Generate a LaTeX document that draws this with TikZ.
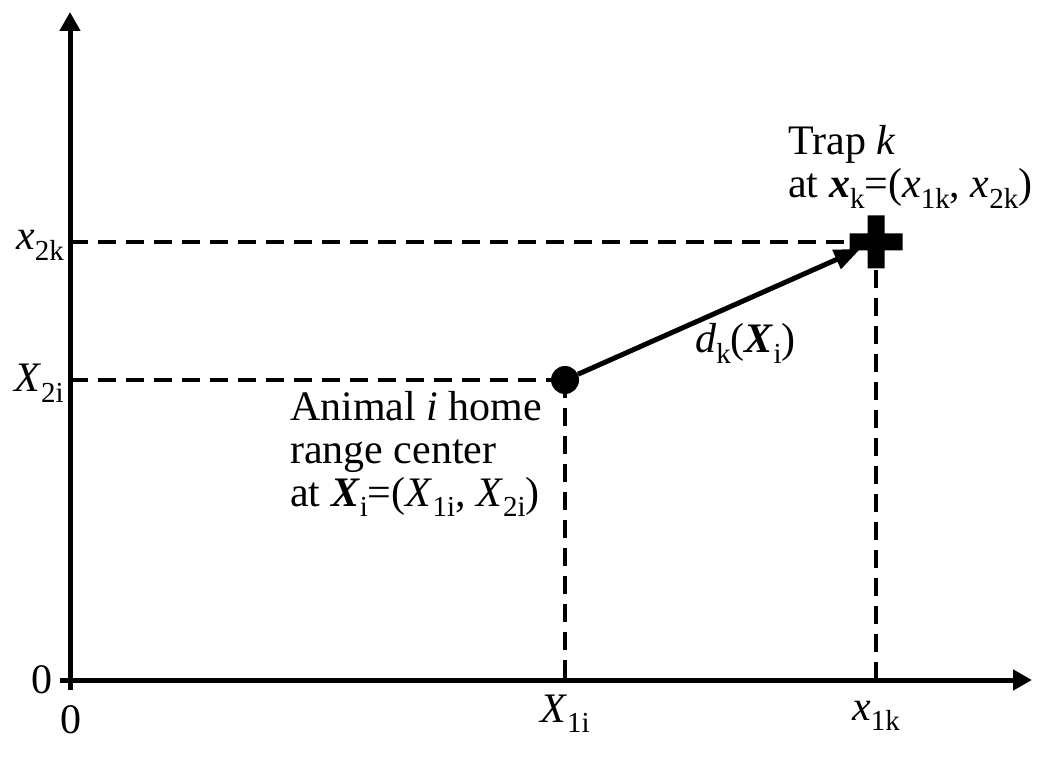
\documentclass[tikz,border=0pt]{standalone}
\usepackage{fontspec}
\setmainfont{Liberation Serif}
\usetikzlibrary{arrows.meta,positioning,calc}
\newcommand\sbs[1]{\raisebox{-.24em}{\fontsize{29}{29}\selectfont #1}}
\newcommand\bi[1]{\textbf{\textit{#1}}}

\begin{document}
\begin{tikzpicture}[x=1pt,y=1pt,
  axis/.style={line width=5pt,-{Triangle[length=19pt,width=20pt]}},
  guide/.style={line width=4.5pt,dash pattern=on 18pt off 10pt},
  vec/.style={line width=5pt,-{Triangle[length=26pt,width=20pt]}},
  lbl/.style={inner sep=0pt,font=\fontsize{42}{43}\selectfont},
  txt/.style={lbl,align=left,anchor=base west}]
  \useasboundingbox (0,0) rectangle (1052,756);
  \coordinate (O) at (70,76);
  \coordinate (ybot) at (70,66);
  \coordinate (ytop) at (70,744);
  \coordinate (xbeg) at (60,76);
  \coordinate (xend) at (1032,76);
  % points
  \node[circle,fill,inner sep=0pt,minimum size=28pt] (hrc) at (565,376) {};
  \node[circle,inner sep=0pt,minimum size=34pt] (trap) at (876,514) {};
  % guides
  \draw[guide] (O |- trap) -- (trap.center);
  \draw[guide] (O |- hrc) -- (hrc.center);
  \draw[guide] (trap.center) -- (trap |- O);
  \draw[guide] (hrc.center) -- (hrc |- O);
  \fill[shift={(trap.center)}] (-26.5,-8.5) rectangle (26.5,8.5) (-8.5,-26.5) rectangle (8.5,26.5);
  % axes
  \draw[axis] (ybot) -- (ytop);
  \draw[axis] (xbeg) -- (xend);
  \draw[vec] (hrc) -- (trap);
  % labels
  \node[lbl,anchor=base east] (x2k) at (64,506) {\textit{x}\sbs{2k}};
  \node[lbl,anchor=base east] (X2i) at (64,364) {\textit{X}\sbs{2i}};
  \node[lbl,anchor=base east] (zy) at (53,63) {0};
  \node[lbl,anchor=base] (zx) at (71,23) {0};
  \node[lbl,anchor=base] (X1i) at (565,34) {\textit{X}\sbs{1i}};
  \node[lbl,anchor=base] (x1k) at (876,36) {\textit{x}\sbs{1k}};
  \node[txt] (traplbl) at (788,558) {Trap \textit{k}\\at \bi{x}\sbs{k}=(\textit{x}\sbs{1k}, \textit{x}\sbs{2k})};
  \node[txt] (hrclbl) at (290,250) {Animal \textit{i} home\\range center\\at \bi{X}\sbs{i}=(\textit{X}\sbs{1i}, \textit{X}\sbs{2i})};
  \node[txt] (dist) at (695,403) {\textit{d}\sbs{k}(\bi{X}\sbs{i})};
\end{tikzpicture}
\end{document}
